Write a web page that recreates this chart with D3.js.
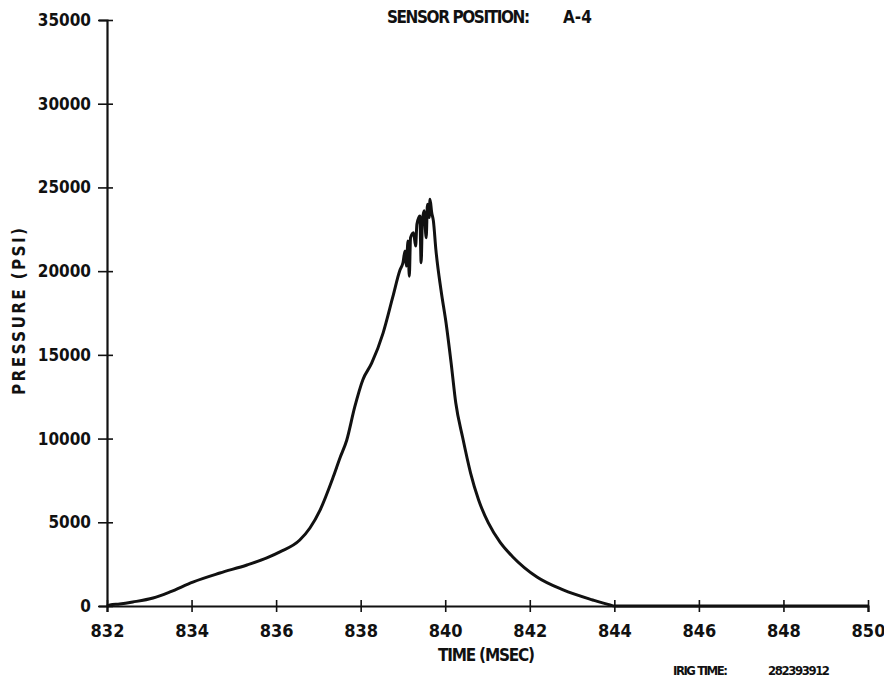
<!DOCTYPE html>
<html>
<head>
<meta charset="utf-8">
<script src="https://cdn.jsdelivr.net/npm/d3@7"></script>
<style>
  html, body { margin: 0; padding: 0; background: #ffffff; }
  svg { display: block; }
  .lbl { font-family: "Liberation Sans Narrow", "DejaVu Sans Condensed", "Arial Narrow", sans-serif; font-weight: 700; fill: #111; }
</style>
</head>
<body>
<svg id="chart" width="884" height="684"></svg>
<script>
// pressure trace
const timeMs = [
    832.00, 832.07, 832.30, 832.61, 833.09, 833.49, 834.03, 834.67, 835.31, 835.78,
    836.09, 836.56, 836.80, 837.04, 837.35, 837.51, 837.67, 837.86, 838.05, 838.26,
    838.53, 838.76, 838.93, 839.00, 839.05, 839.08, 839.12, 839.15, 839.18, 839.25,
    839.30, 839.33, 839.40, 839.43, 839.46, 839.50, 839.55, 839.58, 839.62, 839.64,
    839.68, 839.72, 839.78, 839.90, 840.02, 840.14, 840.25, 840.41, 840.60, 840.79,
    841.02, 841.30, 841.60, 842.17, 842.79, 843.49, 843.90, 844.00, 846.00, 848.00,
    850.00
];
const pressurePsi = [
    0, 60, 120, 240, 480, 840, 1430, 1970, 2450, 2870,
    3230, 3940, 4660, 5730, 7700, 8840, 9900, 11890, 13500, 14500,
    16300, 18460, 20070, 20500, 21200, 20300, 21800, 19700, 22000, 22300,
    21500, 22800, 23300, 20500, 23000, 23600, 22000, 24000, 23200, 24300,
    23500, 23000, 21260, 18870, 16900, 14510, 12120, 10090, 7940, 6330,
    4960, 3800, 2930, 1730, 960, 360, 60, 0, 0, 0,
    0
];

const xTicks = [832, 834, 836, 838, 840, 842, 844, 846, 848, 850];
const yTicks = [0, 5000, 10000, 15000, 20000, 25000, 30000, 35000];

const svg = d3.select("#chart");

const x = d3.scaleLinear().domain([832, 850]).range([107, 868]);
const y = d3.scaleLinear().domain([0, 35000]).range([606, 20]);

// x axis
const gx = svg.append("g")
    .attr("transform", `translate(0,${y(0)})`)
    .call(d3.axisBottom(x).tickValues(xTicks).tickFormat(d3.format("d")).tickSizeOuter(0).tickSize(6).tickPadding(12));
gx.select(".domain").attr("stroke", "#111").attr("stroke-width", 2.2);
gx.selectAll(".tick line").attr("y1", -6).attr("y2", 6).attr("stroke", "#111").attr("stroke-width", 1.6);
gx.selectAll(".tick text").attr("class", "lbl").style("font-size", "18px");

// y axis
const gy = svg.append("g")
    .attr("transform", `translate(${x(832)},0)`)
    .call(d3.axisLeft(y).tickValues(yTicks).tickFormat(d3.format("d")).tickSizeOuter(0).tickSize(8).tickPadding(8));
gy.select(".domain").attr("stroke", "#111").attr("stroke-width", 2.2);
gy.selectAll(".tick line").attr("x1", -9).attr("x2", 6).attr("stroke", "#111").attr("stroke-width", 1.6);
gy.selectAll(".tick text").attr("class", "lbl").style("font-size", "17px");

// trace
const trace = timeMs.map((t, i) => ({ t, p: pressurePsi[i] }));
const line = d3.line()
    .x(d => x(d.t))
    .y(d => y(d.p))
    .curve(d3.curveMonotoneX);

svg.append("path")
    .datum(trace)
    .attr("d", line)
    .attr("fill", "none")
    .attr("stroke", "#111")
    .attr("stroke-width", 3)
    .attr("stroke-linejoin", "round");

// text
svg.append("text").attr("class", "lbl")
    .attr("x", 387).attr("y", 23)
    .attr("textLength", 143)
    .style("font-size", "17px")
    .text("SENSOR POSITION:");
svg.append("text").attr("class", "lbl")
    .attr("x", 563).attr("y", 23)
    .style("font-size", "17px")
    .text("A-4");

svg.append("text").attr("class", "lbl")
    .attr("x", 438).attr("y", 661)
    .attr("textLength", 97)
    .style("font-size", "17px")
    .text("TIME (MSEC)");

svg.append("text").attr("class", "lbl")
    .attr("transform", "translate(25,395) rotate(-90)")
    .attr("textLength", 167)
    .attr("lengthAdjust", "spacing")
    .style("font-size", "17px")
    .text("PRESSURE (PSI)");

svg.append("text").attr("class", "lbl")
    .attr("x", 673).attr("y", 675)
    .attr("textLength", 55)
    .style("font-size", "13px")
    .text("IRIG TIME:");
svg.append("text").attr("class", "lbl")
    .attr("x", 768).attr("y", 675)
    .attr("textLength", 62)
    .style("font-size", "13px")
    .text("282393912");
</script>
</body>
</html>
